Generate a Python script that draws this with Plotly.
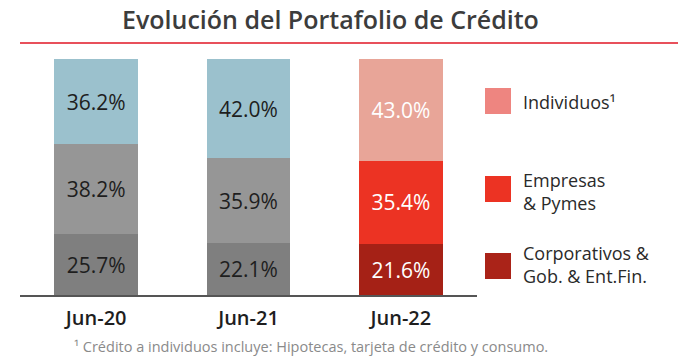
import plotly.graph_objects as go

categories = ["Jun-20", "Jun-21", "Jun-22"]
corporativos = [25.7, 22.1, 21.6]
empresas = [38.2, 35.9, 35.4]
individuos = [36.2, 42.0, 43.0]

series_names = ["Corporativos & Gob. & Ent.Fin.", "Empresas & Pymes", "Individuos¹"]
legend_labels = ["Individuos¹", "Empresas<br>& Pymes", "Corporativos &<br>Gob. & Ent.Fin."]
footnote = "¹ Crédito a individuos incluye: Hipotecas, tarjeta de crédito y consumo."
title = "Evolución del Portafolio de Crédito"

FONT = "Open Sans"
DARK = "#1e1e1e"

seg_colors = {
    "corp": ["#7f7f7f", "#7f7f7f", "#A52116"],
    "emp": ["#969696", "#969696", "#EC3323"],
    "ind": ["#9BC1CD", "#9BC1CD", "#E8A598"],
}
txt_colors = [DARK, DARK, "white"]

fig = go.Figure()
for vals, key, name in [(corporativos, "corp", series_names[0]),
                        (empresas, "emp", series_names[1]),
                        (individuos, "ind", series_names[2])]:
    fig.add_trace(go.Bar(
        x=categories, y=vals, name=name, width=0.55,
        marker=dict(color=seg_colors[key], line=dict(width=0)),
        texttemplate="%{y:.1f}%", textposition="inside",
        insidetextanchor="middle", constraintext="none",
        textfont=dict(family=FONT, size=21, color=txt_colors),
        cliponaxis=False, showlegend=False,
    ))

# page body has an 8px margin; place everything in reference pixel coords minus OFF
OFF = 8
W, H = 686 - OFF, 360 - OFF
L = 20 - OFF
pw = 457
R = W - L - pw
T = 59 - OFF
B = H - (295 - OFF)
ph = H - T - B

def px(x):
    return (x - OFF - L) / pw

def py(y):
    return (H - B - (y - OFF)) / ph

shapes = [dict(type="line", xref="paper", yref="paper",
               x0=px(20), x1=px(690), y0=py(43), y1=py(43),
               line=dict(color="#E8505B", width=2))]
annotations = [dict(text=title, xref="paper", yref="paper", x=px(330), y=py(19),
                    showarrow=False, xanchor="center", yanchor="middle",
                    font=dict(family=FONT, size=25, color="#3c3c3c", weight=600))]

leg_colors = ["#EE8580", "#EC3323", "#AA2318"]
leg_sq_y = [101, 189, 266]
leg_txt_y = [102, 191, 264]
for lab, col, yc, yt in zip(legend_labels, leg_colors, leg_sq_y, leg_txt_y):
    shapes.append(dict(type="rect", xref="paper", yref="paper",
                       x0=px(485), x1=px(511), y0=py(yc - 13), y1=py(yc + 13),
                       fillcolor=col, line=dict(width=0)))
    annotations.append(dict(text=lab, xref="paper", yref="paper", x=px(521), y=py(yt),
                            showarrow=False, xanchor="left", yanchor="middle", align="left",
                            font=dict(family=FONT, size=18, color="#2a2a2a")))

annotations.append(dict(text=footnote, xref="paper", yref="paper", x=px(311), y=py(346),
                        showarrow=False, xanchor="center", yanchor="middle",
                        font=dict(family=FONT, size=14.5, color="#8a8a8a")))

fig.update_layout(
    barmode="stack", width=W, height=H,
    margin=dict(l=L, r=R, t=T, b=B),
    paper_bgcolor="white", plot_bgcolor="white",
    shapes=shapes, annotations=annotations,
    xaxis=dict(range=[-0.5, 2.5], showline=True, linecolor="#555555", linewidth=1.5,
               ticks="", showgrid=False, zeroline=False, ticklabelstandoff=4,
               tickfont=dict(family=FONT, size=20, color=DARK, weight=600)),
    yaxis=dict(range=[0, 100.15], visible=False, showgrid=False, zeroline=False),
    uniformtext=dict(mode=False),
)

fig.write_html("out.html")
